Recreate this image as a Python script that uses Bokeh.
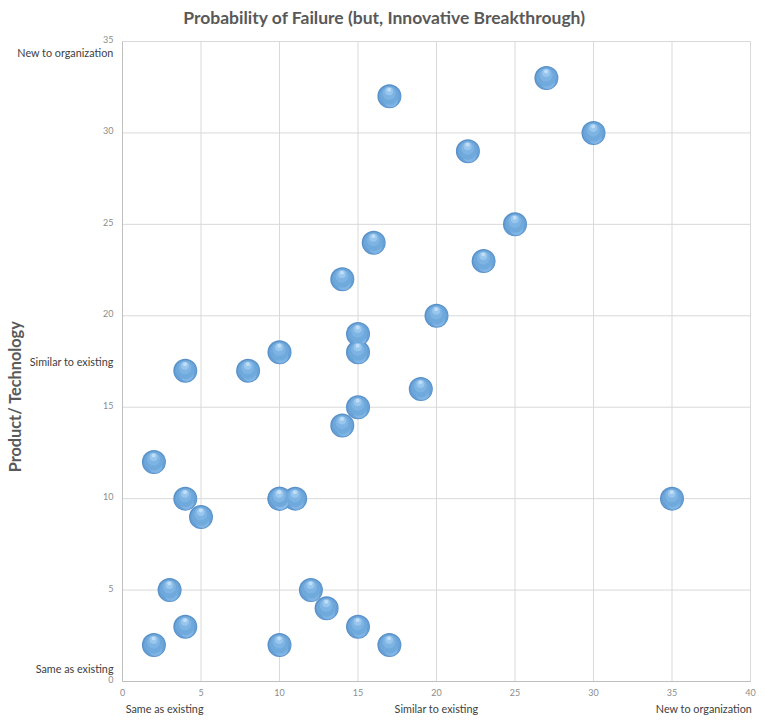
from bokeh.plotting import figure
from bokeh.models import ColumnDataSource
from bokeh.core.properties import value
from bokeh.transform import dodge
from bokeh.embed import file_html
from bokeh.resources import INLINE

# data
market_x = [27, 17, 30, 22, 25, 16, 23, 14, 20, 15, 10, 15, 4, 8, 19, 15, 14, 2,
            4, 10, 10, 11, 35, 5, 3, 12, 13, 4, 15, 2, 10, 17]
tech_y = [33, 32, 30, 29, 25, 24, 23, 22, 20, 19, 18, 18, 17, 17, 16, 15, 14, 12,
          10, 10, 10, 10, 10, 9, 5, 5, 4, 3, 3, 2, 2, 2]
x_ticks = [0, 5, 10, 15, 20, 25, 30, 35, 40]
y_ticks = [0, 5, 10, 15, 20, 25, 30, 35]
y_cat_labels = ["New to organization", "Similar to existing", "Same as existing"]
y_cat_pos = [34.4, 17.5, 0.7]
x_cat_labels = ["Same as existing", "Similar to existing", "New to organization"]
x_cat_pos = [0.2, 20, 40.1]
title_text = "Probability of Failure (but, Innovative Breakthrough)"
y_title = "Product/ Technology"

FONT = "Lato"
X_MAX, Y_MAX = 40, 35

# frame covers whole canvas; plot area is drawn inside via extended ranges
W, H = 760, 718
left_px, right_px, top_px, bottom_px = 122, 750, 41, 681
sx = (right_px - left_px) / X_MAX
sy = (bottom_px - top_px) / Y_MAX
x0 = -left_px / sx
x1 = X_MAX + (W - right_px) / sx
y1 = Y_MAX + top_px / sy
y0 = -(H - bottom_px) / sy

p = figure(width=W, height=H, x_range=(x0, x1), y_range=(y0, y1),
           x_axis_type=None, y_axis_type=None,
           output_backend="svg", toolbar_location=None,
           min_border=0, min_border_left=0, min_border_right=0,
           min_border_top=0, min_border_bottom=0)
p.background_fill_color = "white"
p.border_fill_color = "white"
p.outline_line_color = None
p.grid.visible = False

# grid lines
p.segment(x0=x_ticks, x1=x_ticks, y0=[0] * len(x_ticks), y1=[Y_MAX] * len(x_ticks),
          line_color="#d9d9d9", line_width=1)
p.segment(x0=[0] * len(y_ticks), x1=[X_MAX] * len(y_ticks), y0=y_ticks, y1=y_ticks,
          line_color="#d9d9d9", line_width=1)
# axis lines
p.segment(x0=[0, 0], x1=[X_MAX, 0], y0=[0, 0], y1=[0, Y_MAX],
          line_color="#bfbfbf", line_width=1)

# tick labels
p.text(x=x_ticks, y=[-11 / sy] * len(x_ticks), text=[str(t) for t in x_ticks],
       text_align="center", text_baseline="middle", text_font=value(FONT),
       text_font_size="9px", text_color="#8c8c8c")
p.text(x=[-9 / sx] * len(y_ticks), y=[t + 2 / sy for t in y_ticks],
       text=[str(t) for t in y_ticks],
       text_align="right", text_baseline="middle", text_font=value(FONT),
       text_font_size="9px", text_color="#8c8c8c")

# category labels
p.text(x=[-9 / sx] * 3, y=y_cat_pos, text=y_cat_labels, text_align="right",
       text_baseline="middle", text_font=value(FONT), text_font_size="10.8px",
       text_color="#404040")
for t, xx, al in zip(x_cat_labels, x_cat_pos, ["left", "center", "right"]):
    p.text(x=[xx], y=[-27 / sy], text=[t], text_align=al, text_baseline="middle",
           text_font=value(FONT), text_font_size="10.8px", text_color="#404040")

# title and y title
p.text(x=[(384 - left_px) / sx], y=[y1 - 17 / sy], text=[title_text],
       text_align="center", text_baseline="middle", text_font=value(FONT),
       text_font_size="17.5px", text_font_style="bold", text_color="#595959")
p.text(x=[(14 - left_px) / sx], y=[(bottom_px - 396) / sy], text=[y_title],
       text_align="center", text_baseline="middle", angle=1.5708,
       text_font=value(FONT), text_font_size="16.3px", text_font_style="bold",
       text_color="#595959")

# bubbles (sphere look)
src = ColumnDataSource(dict(x=market_x, y=tech_y))
layers = [
    (24, "#5a90c8", 0, 0, 1.0),
    (22, "#66a0d6", 0.3, -0.3, 1.0),
    (14, "#90c2ec", 1.5, -4, 0.6),
    (19, "#6fa8dc", 0, 1, 0.9),
    (13, "#82b6e5", -0.3, 3, 0.8),
    (8, "#9fcaef", -0.3, 5, 0.8),
    (4, "#c6e1f8", -0.3, 6.5, 0.85),
]
for s, c, dx, dy, a in layers:
    p.scatter(x=dodge("x", dx / sx, range=p.x_range),
              y=dodge("y", dy / sy, range=p.y_range),
              source=src, size=s, fill_color=c, line_color=None, fill_alpha=a)

open("out.html", "w").write(file_html(p, INLINE))
